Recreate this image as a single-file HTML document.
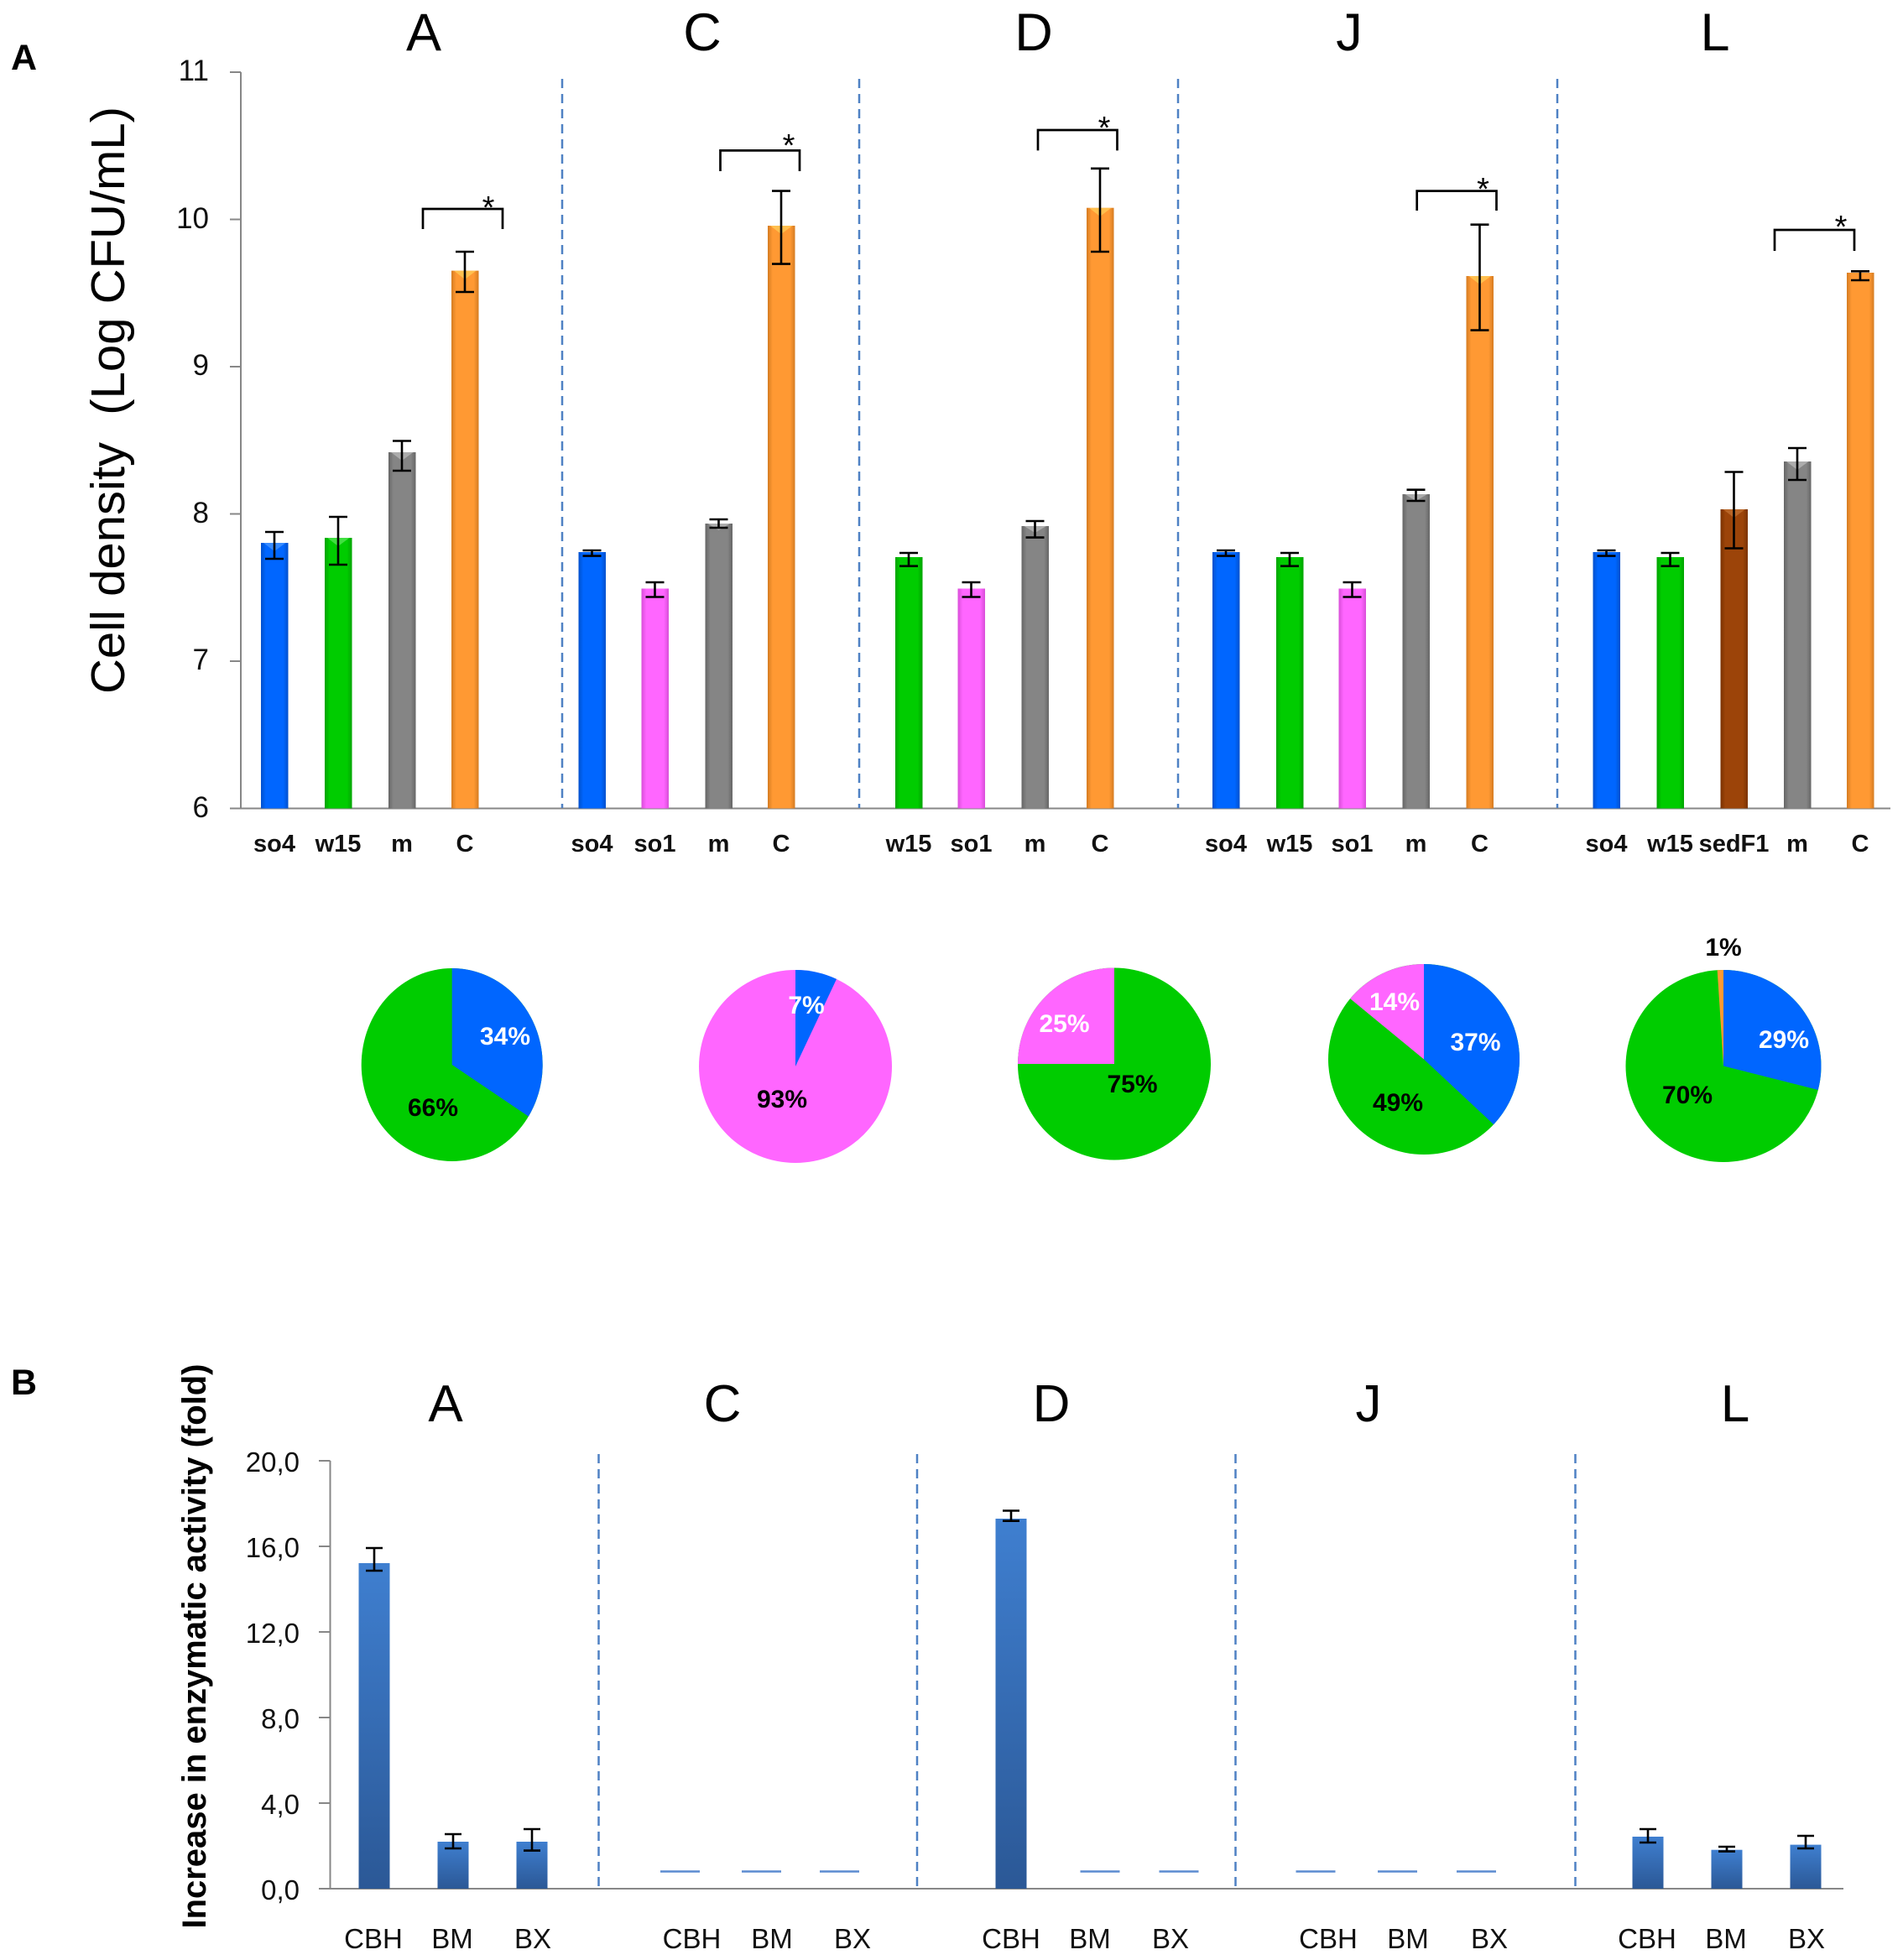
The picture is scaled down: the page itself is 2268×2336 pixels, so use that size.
<!DOCTYPE html>
<html><head><meta charset="utf-8">
<style>
html,body{margin:0;padding:0;background:#fff;}
svg{display:block;}
text{font-family:"Liberation Sans",Arial,sans-serif;}
</style></head>
<body>
<svg width="2268" height="2336" viewBox="0 0 2268 2336" xmlns="http://www.w3.org/2000/svg">
<defs>
<linearGradient id="gB" x1="0" x2="1" y1="0" y2="0"><stop offset="0" stop-color="#0050cc"/><stop offset="0.18" stop-color="#0066ff"/><stop offset="0.82" stop-color="#0066ff"/><stop offset="1" stop-color="#0050cc"/></linearGradient>
<linearGradient id="gG" x1="0" x2="1" y1="0" y2="0"><stop offset="0" stop-color="#00a300"/><stop offset="0.18" stop-color="#00cc00"/><stop offset="0.82" stop-color="#00cc00"/><stop offset="1" stop-color="#00a300"/></linearGradient>
<linearGradient id="gM" x1="0" x2="1" y1="0" y2="0"><stop offset="0" stop-color="#666"/><stop offset="0.18" stop-color="#858585"/><stop offset="0.82" stop-color="#858585"/><stop offset="1" stop-color="#666"/></linearGradient>
<linearGradient id="gO" x1="0" x2="1" y1="0" y2="0"><stop offset="0" stop-color="#d57c22"/><stop offset="0.18" stop-color="#ff9933"/><stop offset="0.82" stop-color="#ff9933"/><stop offset="1" stop-color="#d57c22"/></linearGradient>
<linearGradient id="gP" x1="0" x2="1" y1="0" y2="0"><stop offset="0" stop-color="#d84ed8"/><stop offset="0.18" stop-color="#ff66ff"/><stop offset="0.82" stop-color="#ff66ff"/><stop offset="1" stop-color="#d84ed8"/></linearGradient>
<linearGradient id="gS" x1="0" x2="1" y1="0" y2="0"><stop offset="0" stop-color="#7a3200"/><stop offset="0.18" stop-color="#9c4409"/><stop offset="0.82" stop-color="#9c4409"/><stop offset="1" stop-color="#7a3200"/></linearGradient>
<linearGradient id="gE" x1="0" x2="0" y1="0" y2="1"><stop offset="0" stop-color="#3f7fd0"/><stop offset="1" stop-color="#2b5896"/></linearGradient>
</defs>

<!-- ================= PANEL A ================= -->
<text x="13" y="83" font-size="43" font-weight="bold">A</text>

<g font-size="63" text-anchor="middle">
<text x="505" y="60">A</text>
<text x="837" y="60">C</text>
<text x="1232" y="60">D</text>
<text x="1608" y="60">J</text>
<text x="2044" y="60">L</text>
</g>

<text transform="translate(148,477) rotate(-90)" font-size="57" text-anchor="middle" textLength="700" lengthAdjust="spacingAndGlyphs" style="white-space:pre">Cell density  (Log CFU/mL)</text>

<g stroke="#878787" stroke-width="2">
<line x1="287" y1="86" x2="287" y2="963.5"/>
<line x1="274" y1="86" x2="287" y2="86"/>
<line x1="274" y1="261.5" x2="287" y2="261.5"/>
<line x1="274" y1="437" x2="287" y2="437"/>
<line x1="274" y1="612.5" x2="287" y2="612.5"/>
<line x1="274" y1="788" x2="287" y2="788"/>
<line x1="274" y1="963.5" x2="2253" y2="963.5"/>
</g>
<g font-size="35" text-anchor="end" fill="#111">
<text x="249" y="96">11</text>
<text x="249" y="272">10</text>
<text x="249" y="447">9</text>
<text x="249" y="623">8</text>
<text x="249" y="798">7</text>
<text x="249" y="974">6</text>
</g>

<g stroke="#4f81c4" stroke-width="2.5" stroke-dasharray="11 7">
<line x1="670" y1="94" x2="670" y2="963"/>
<line x1="1024" y1="94" x2="1024" y2="963"/>
<line x1="1404" y1="94" x2="1404" y2="963"/>
<line x1="1856" y1="94" x2="1856" y2="963"/>
</g>

<g>
<rect x="311" y="647" width="32.5" height="316.5" fill="url(#gB)"/>
<rect x="387" y="641" width="32.5" height="322.5" fill="url(#gG)"/>
<rect x="463" y="539" width="32.5" height="424.5" fill="url(#gM)"/>
<rect x="538" y="322.6" width="32.5" height="640.9" fill="url(#gO)"/>
<rect x="689.5" y="658" width="32.5" height="305.5" fill="url(#gB)"/>
<rect x="764.5" y="701.5" width="32.5" height="262" fill="url(#gP)"/>
<rect x="840.5" y="624" width="32.5" height="339.5" fill="url(#gM)"/>
<rect x="915" y="269" width="32.5" height="694.5" fill="url(#gO)"/>
<rect x="1067" y="664" width="32.5" height="299.5" fill="url(#gG)"/>
<rect x="1141.5" y="701.5" width="32.5" height="262" fill="url(#gP)"/>
<rect x="1217.5" y="627" width="32.5" height="336.5" fill="url(#gM)"/>
<rect x="1295" y="247.7" width="32.5" height="715.8" fill="url(#gO)"/>
<rect x="1445" y="658" width="32.5" height="305.5" fill="url(#gB)"/>
<rect x="1521" y="664" width="32.5" height="299.5" fill="url(#gG)"/>
<rect x="1595.5" y="701.5" width="32.5" height="262" fill="url(#gP)"/>
<rect x="1671.5" y="589" width="32.5" height="374.5" fill="url(#gM)"/>
<rect x="1747.5" y="329" width="32.5" height="634.5" fill="url(#gO)"/>
<rect x="1898.5" y="658" width="32.5" height="305.5" fill="url(#gB)"/>
<rect x="1974.5" y="664" width="32.5" height="299.5" fill="url(#gG)"/>
<rect x="2050.5" y="607" width="32.5" height="356.5" fill="url(#gS)"/>
<rect x="2126" y="550" width="32.5" height="413.5" fill="url(#gM)"/>
<rect x="2201" y="325" width="32.5" height="638.5" fill="url(#gO)"/>
</g>

<g opacity="0.55">
<polygon points="314,647 340.5,647 327,657" fill="#66aaff"/>
<polygon points="390,641 416.5,641 403,651" fill="#77ee77"/>
<polygon points="466,539 492.5,539 479,549" fill="#cccccc"/>
<polygon points="541,322.6 567.5,322.6 554,333" fill="#ffe066"/>
<polygon points="918,269 944.5,269 931,279" fill="#ffe066"/>
<polygon points="1298,247.7 1324.5,247.7 1311,258" fill="#ffe066"/>
<polygon points="1750.5,329 1777,329 1763.5,339" fill="#ffe066"/>
<polygon points="2053.5,607 2080,607 2066.5,617" fill="#d08040"/>
<polygon points="2129,550 2155.5,550 2142,560" fill="#cccccc"/>
<polygon points="843.5,624 870,624 856.5,632" fill="#cccccc"/>
<polygon points="1220.5,627 1247,627 1233.5,635" fill="#cccccc"/>
<polygon points="1674.5,589 1701,589 1687.5,597" fill="#cccccc"/>
</g>

<g stroke="#000" stroke-width="2.6" fill="none">
<path d="M327 634V666M316 634H338M316 666H338"/>
<path d="M403 616V673M392 616H414M392 673H414"/>
<path d="M479 525.5V561M468 525.5H490M468 561H490"/>
<path d="M554 300V348M543 300H565M543 348H565"/>
<path d="M705.5 656V662.6M694.5 656H716.5M694.5 662.6H716.5"/>
<path d="M780.5 694V711.5M769.5 694H791.5M769.5 711.5H791.5"/>
<path d="M856.5 619V629M845.5 619H867.5M845.5 629H867.5"/>
<path d="M931 227.6V314.6M920 227.6H942M920 314.6H942"/>
<path d="M1083 659V674.7M1072 659H1094M1072 674.7H1094"/>
<path d="M1157.5 694V711.5M1146.5 694H1168.5M1146.5 711.5H1168.5"/>
<path d="M1233.5 621V640.6M1222.5 621H1244.5M1222.5 640.6H1244.5"/>
<path d="M1311 200.8V300M1300 200.8H1322M1300 300H1322"/>
<path d="M1461 656V662.6M1450 656H1472M1450 662.6H1472"/>
<path d="M1537 659V674.7M1526 659H1548M1526 674.7H1548"/>
<path d="M1611.5 694V711.5M1600.5 694H1622.5M1600.5 711.5H1622.5"/>
<path d="M1687.5 583.7V597M1676.5 583.7H1698.5M1676.5 597H1698.5"/>
<path d="M1763.5 267.7V393.6M1752.5 267.7H1774.5M1752.5 393.6H1774.5"/>
<path d="M1914.5 656V662.6M1903.5 656H1925.5M1903.5 662.6H1925.5"/>
<path d="M1990.5 659V674.7M1979.5 659H2001.5M1979.5 674.7H2001.5"/>
<path d="M2066.5 562.5V653.5M2055.5 562.5H2077.5M2055.5 653.5H2077.5"/>
<path d="M2142 534V572M2131 534H2153M2131 572H2153"/>
<path d="M2217 323.3V334M2206 323.3H2228M2206 334H2228"/>
</g>

<g stroke="#000" stroke-width="2.7" fill="none">
<path d="M504 273V249H599V273"/>
<path d="M858.5 204V179.4H953V204"/>
<path d="M1237 179.4V155H1331.5V179.4"/>
<path d="M1688.7 251V227.6H1783.5V251"/>
<path d="M2115 299V274H2210V299"/>
</g>
<g font-size="38" text-anchor="middle">
<text x="582" y="260">*</text>
<text x="940" y="186">*</text>
<text x="1316" y="165">*</text>
<text x="1767.5" y="238">*</text>
<text x="2194" y="283">*</text>
</g>

<g font-size="29" font-weight="bold" text-anchor="middle" fill="#111">
<text x="327" y="1015">so4</text>
<text x="403" y="1015">w15</text>
<text x="479" y="1015">m</text>
<text x="554" y="1015">C</text>
<text x="705.5" y="1015">so4</text>
<text x="780.5" y="1015">so1</text>
<text x="856.5" y="1015">m</text>
<text x="931" y="1015">C</text>
<text x="1083" y="1015">w15</text>
<text x="1157.5" y="1015">so1</text>
<text x="1233.5" y="1015">m</text>
<text x="1311" y="1015">C</text>
<text x="1461" y="1015">so4</text>
<text x="1537" y="1015">w15</text>
<text x="1611.5" y="1015">so1</text>
<text x="1687.5" y="1015">m</text>
<text x="1763.5" y="1015">C</text>
<text x="1914.5" y="1015">so4</text>
<text x="1990.5" y="1015">w15</text>
<text x="2066.5" y="1015">sedF1</text>
<text x="2142" y="1015">m</text>
<text x="2217" y="1015">C</text>
</g>

<ellipse cx="538.7" cy="1269" rx="108" ry="115" fill="#00cc00"/>
<path d="M538.7 1269L538.7 1154A108 115 0 0 1 629.9 1330.6Z" fill="#0066ff"/>

<ellipse cx="948" cy="1271" rx="115" ry="115" fill="#ff66ff"/>
<path d="M948 1271L948 1156A115 115 0 0 1 997 1166.9Z" fill="#0066ff"/>

<ellipse cx="1328" cy="1268" rx="115" ry="114.5" fill="#00cc00"/>
<path d="M1328 1268L1213 1268A115 114.5 0 0 1 1328 1153.5Z" fill="#ff66ff"/>

<ellipse cx="1697" cy="1262.5" rx="114" ry="113.5" fill="#00cc00"/>
<path d="M1697 1262.5L1697 1149A114 113.5 0 0 1 1780.1 1340.2Z" fill="#0066ff"/>
<path d="M1697 1262.5L1609.2 1190.2A114 113.5 0 0 1 1697 1149Z" fill="#ff66ff"/>

<ellipse cx="2054" cy="1270.5" rx="116.5" ry="114.5" fill="#00cc00"/>
<path d="M2054 1270.5L2054 1156A116.5 114.5 0 0 1 2166.8 1299Z" fill="#0066ff"/>
<path d="M2054 1270.5L2046.7 1156.2A116.5 114.5 0 0 1 2054 1156Z" fill="#ff9933"/>

<g font-size="30" font-weight="bold" text-anchor="middle">
<text x="602" y="1245" fill="#fff">34%</text>
<text x="516" y="1330" fill="#000">66%</text>
<text x="961" y="1208" fill="#fff">7%</text>
<text x="932" y="1320" fill="#000">93%</text>
<text x="1268.5" y="1230" fill="#fff">25%</text>
<text x="1349.5" y="1302" fill="#000">75%</text>
<text x="1662" y="1204" fill="#fff">14%</text>
<text x="1758.5" y="1252" fill="#fff">37%</text>
<text x="1666" y="1324" fill="#000">49%</text>
<text x="2054" y="1139" fill="#000">1%</text>
<text x="2126" y="1249" fill="#fff">29%</text>
<text x="2011" y="1315" fill="#000">70%</text>
</g>

<!-- ================= PANEL B ================= -->
<text x="13" y="1662" font-size="43" font-weight="bold">B</text>

<g font-size="62" text-anchor="middle">
<text x="531" y="1694">A</text>
<text x="861" y="1694">C</text>
<text x="1253" y="1694">D</text>
<text x="1631" y="1694">J</text>
<text x="2068" y="1694">L</text>
</g>

<text transform="translate(245,1962) rotate(-90)" font-size="40" font-weight="bold" text-anchor="middle" textLength="673" lengthAdjust="spacingAndGlyphs">Increase in enzymatic activity (fold)</text>

<g stroke="#878787" stroke-width="2">
<line x1="393.5" y1="1741" x2="393.5" y2="2251"/>
<line x1="380" y1="1741" x2="393.5" y2="1741"/>
<line x1="380" y1="1843" x2="393.5" y2="1843"/>
<line x1="380" y1="1945" x2="393.5" y2="1945"/>
<line x1="380" y1="2047" x2="393.5" y2="2047"/>
<line x1="380" y1="2149" x2="393.5" y2="2149"/>
<line x1="380" y1="2251" x2="2197" y2="2251"/>
</g>
<g font-size="33" text-anchor="end" fill="#111">
<text x="357" y="1754">20,0</text>
<text x="357" y="1856">16,0</text>
<text x="357" y="1958">12,0</text>
<text x="357" y="2060">8,0</text>
<text x="357" y="2162">4,0</text>
<text x="357" y="2264">0,0</text>
</g>

<g stroke="#4f81c4" stroke-width="2.5" stroke-dasharray="11 7">
<line x1="713.5" y1="1733" x2="713.5" y2="2251"/>
<line x1="1093" y1="1733" x2="1093" y2="2251"/>
<line x1="1472.5" y1="1733" x2="1472.5" y2="2251"/>
<line x1="1877.5" y1="1733" x2="1877.5" y2="2251"/>
</g>

<g fill="url(#gE)">
<rect x="427.5" y="1863" width="37" height="388"/>
<rect x="521.5" y="2195" width="37" height="56"/>
<rect x="615.5" y="2195" width="37" height="56"/>
<rect x="1186.5" y="1810" width="37" height="441"/>
<rect x="1945.5" y="2189" width="37" height="62"/>
<rect x="2039.5" y="2204.7" width="37" height="46.3"/>
<rect x="2133.5" y="2198.6" width="37" height="52.4"/>
</g>

<g stroke="#5b8bd0" stroke-width="2.6">
<line x1="787" y1="2230.5" x2="834" y2="2230.5"/>
<line x1="884" y1="2230.5" x2="931" y2="2230.5"/>
<line x1="977" y1="2230.5" x2="1024" y2="2230.5"/>
<line x1="1287.5" y1="2230.5" x2="1334.5" y2="2230.5"/>
<line x1="1381.5" y1="2230.5" x2="1428.5" y2="2230.5"/>
<line x1="1544.5" y1="2230.5" x2="1591.5" y2="2230.5"/>
<line x1="1642" y1="2230.5" x2="1689" y2="2230.5"/>
<line x1="1736" y1="2230.5" x2="1783" y2="2230.5"/>
</g>

<g stroke="#000" stroke-width="2.6" fill="none">
<path d="M446 1845V1872M436 1845H456M436 1872H456"/>
<path d="M540 2186V2203M530 2186H550M530 2203H550"/>
<path d="M634 2180V2205.6M624 2180H644M624 2205.6H644"/>
<path d="M1205 1800.5V1812.7M1195 1800.5H1215M1195 1812.7H1215"/>
<path d="M1964 2180V2196M1954 2180H1974M1954 2196H1974"/>
<path d="M2058 2201V2206.6M2048 2201H2068M2048 2206.6H2068"/>
<path d="M2152 2188V2203M2142 2188H2162M2142 2203H2162"/>
</g>

<g font-size="33" text-anchor="middle" fill="#111">
<text x="445" y="2322">CBH</text>
<text x="539" y="2322">BM</text>
<text x="635" y="2322">BX</text>
<text x="824.5" y="2322">CBH</text>
<text x="920" y="2322">BM</text>
<text x="1016" y="2322">BX</text>
<text x="1205" y="2322">CBH</text>
<text x="1299" y="2322">BM</text>
<text x="1395" y="2322">BX</text>
<text x="1583" y="2322">CBH</text>
<text x="1678" y="2322">BM</text>
<text x="1775" y="2322">BX</text>
<text x="1963" y="2322">CBH</text>
<text x="2057" y="2322">BM</text>
<text x="2153" y="2322">BX</text>
</g>
</svg>
</body></html>
